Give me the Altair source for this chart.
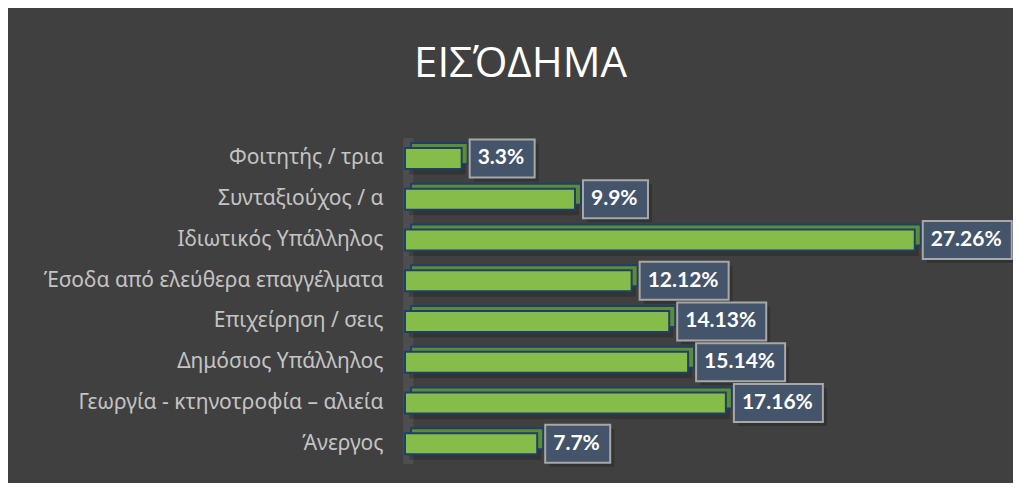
import altair as alt
import pandas as pd

categories = ["Φοιτητής / τρια", "Συνταξιούχος / α", "Ιδιωτικός Υπάλληλος",
              "Έσοδα από ελεύθερα επαγγέλματα", "Επιχείρηση / σεις",
              "Δημόσιος Υπάλληλος", "Γεωργία - κτηνοτροφία – αλιεία", "Άνεργος"]
values = [3.03, 9.09, 27.26, 12.12, 14.13, 15.14, 17.16, 7.07]
labels = ["3.3%", "9.9%", "27.26%", "12.12%", "14.13%", "15.14%", "17.16%", "7.7%"]

df = pd.DataFrame({"cat": categories, "val": values, "lab": labels})

# label-box symbol paths (unit = 50px with size 10000)
def box_path(lab):
    w = 12 * len(lab) + 17
    x0 = 8 / 50
    x1 = (8 + w) / 50
    h = 19 / 50
    return f"M{x0:.3f},{-h:.3f}H{x1:.3f}V{h:.3f}H{x0:.3f}Z"

df["box"] = [box_path(l) for l in labels]
df["w0"] = -0.1
df["w1"] = 0.45

W, H = 561, 326
xs = alt.Scale(domain=[0, 30], nice=False, zero=True)
ys = alt.Scale(paddingInner=0, paddingOuter=0)
yenc = alt.Y("cat:N", sort=categories, scale=ys,
             axis=alt.Axis(title=None, domain=False, ticks=False, labelPadding=22,
                           labelFont="Noto Sans", labelFontSize=21, labelColor="#C4C4C4",
                           labelLimit=420))
xenc = alt.X("val:Q", scale=xs, axis=None)

base = alt.Chart(df)

wall = base.mark_rect(color="#4E4E4E").encode(
    x=alt.X("w0:Q", scale=xs, axis=None), x2="w1:Q", y=yenc)

bar_shadow = base.mark_bar(size=24, fill="#000000", opacity=0.18,
                           xOffset=4, x2Offset=4, yOffset=4, y2Offset=4).encode(
    x=xenc, y=yenc)

back = base.mark_bar(size=21, fill="#5E8C31", stroke="#1F3E6B", strokeWidth=2,
                     xOffset=6, x2Offset=6, yOffset=-5, y2Offset=-5).encode(
    x=xenc, y=yenc)

front = base.mark_bar(size=21, fill="#86BC4A", stroke="#1F3E6B", strokeWidth=2).encode(
    x=xenc, y=yenc)

box_shadow = base.mark_point(filled=True, fill="#000000", opacity=0.2, strokeWidth=0,
                             size=10000, xOffset=4, yOffset=4).encode(
    x=xenc, y=yenc,
    shape=alt.Shape("box:N", scale=None, legend=None))

boxes = base.mark_point(filled=True, fill="#44546A", stroke="#A8A8A8", strokeWidth=2,
                        opacity=1, fillOpacity=1, strokeOpacity=1, size=10000).encode(
    x=xenc, y=yenc,
    shape=alt.Shape("box:N", scale=None, legend=None))

texts = base.mark_text(align="left", baseline="middle", dx=16, font="Lato",
                       fontWeight="bold", fontSize=21, color="white").encode(
    x=xenc, y=yenc, text="lab:N")

chart = alt.layer(wall, bar_shadow, back, front, box_shadow, boxes, texts).properties(
    width=W, height=H,
    autosize=alt.AutoSizeParams(type="none"),
    padding={"left": 397, "top": 130, "right": 1005 - 397 - W, "bottom": 475 - 130 - H},
    title=alt.TitleParams("ΕΙΣΌΔΗΜΑ", font="Open Sans", fontSize=42, color="white",
                          fontWeight="normal", anchor="middle", dx=-165, offset=16,
                          baseline="alphabetic"),
).configure(background="#404040").configure_view(stroke=None)

chart.save("out.html", embed_options={"renderer": "svg", "actions": False})
